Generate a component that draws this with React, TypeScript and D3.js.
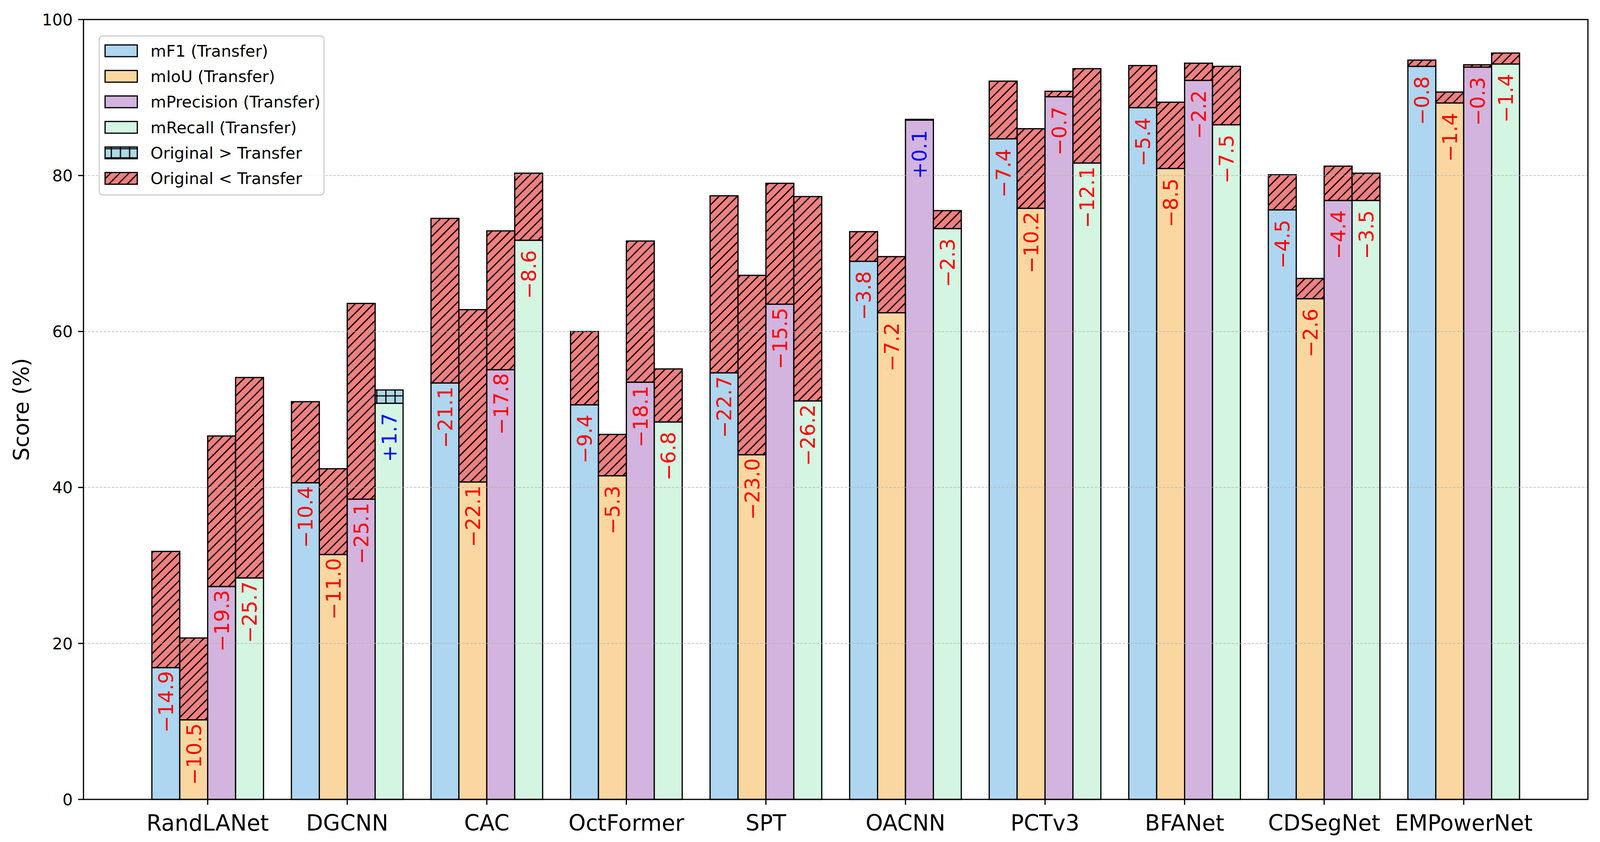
import { useEffect, useMemo, useState } from "react";
import * as d3 from "d3";

const categories = ["RandLANet", "DGCNN", "CAC", "OctFormer", "SPT", "OACNN", "PCTv3", "BFANet", "CDSegNet", "EMPowerNet"];

const metricNames = ["mF1 (Transfer)", "mIoU (Transfer)", "mPrecision (Transfer)", "mRecall (Transfer)"];

// transfer scores (base bars)
const mF1 = [16.9, 40.6, 53.4, 50.6, 54.7, 69.0, 84.7, 88.7, 75.6, 94.0];
const mIoU = [10.2, 31.4, 40.7, 41.5, 44.2, 62.4, 75.8, 80.9, 64.2, 89.3];
const mPrecision = [27.3, 38.5, 55.1, 53.5, 63.5, 87.1, 90.1, 92.2, 76.8, 93.9];
const mRecall = [28.4, 50.8, 71.7, 48.4, 51.1, 73.2, 81.6, 86.5, 76.8, 94.3];

// differences shown as labels and stacked hatch segments
const dF1 = [-14.9, -10.4, -21.1, -9.4, -22.7, -3.8, -7.4, -5.4, -4.5, -0.8];
const dIoU = [-10.5, -11.0, -22.1, -5.3, -23.0, -7.2, -10.2, -8.5, -2.6, -1.4];
const dPrecision = [-19.3, -25.1, -17.8, -18.1, -15.5, 0.1, -0.7, -2.2, -4.4, -0.3];
const dRecall = [-25.7, 1.7, -8.6, -6.8, -26.2, -2.3, -12.1, -7.5, -3.5, -1.4];

const yTicks = [0, 20, 40, 60, 80, 100];
const gridTicks = [20, 40, 60, 80];

const COLORS = ["#AED6F1", "#FAD7A0", "#D2B4DE", "#D5F5E3"];
const FONT = "DejaVu Sans";

// reference figure size, all layout numbers below are in these units
const REF_W = 4370;
const REF_H = 2155;

function useViewport() {
  const get = () => ({ w: window.innerWidth || REF_W, h: window.innerHeight || REF_H });
  const [vp, setVp] = useState(get);
  useEffect(() => {
    document.body.style.margin = "0";
    document.body.style.overflow = "hidden";
    const onResize = () => setVp(get());
    window.addEventListener("resize", onResize);
    onResize();
    return () => window.removeEventListener("resize", onResize);
  }, []);
  return vp;
}

export default function App() {
  const { w, h } = useViewport();
  const sx = w / REF_W;
  const sy = h / REF_H;
  const k = Math.min(sx, sy); // font / stroke scale
  const X = (v: number) => v * sx;
  const Y = (v: number) => v * sy;

  const series = [mF1, mIoU, mPrecision, mRecall];
  const diffs = [dF1, dIoU, dPrecision, dRecall];

  const x = useMemo(() => d3.scaleLinear().domain([-0.89, 9.89]).range([X(228), X(4337)]), [sx]);
  const y = useMemo(() => d3.scaleLinear().domain([0, 100]).range([Y(2046), Y(50)]), [sy]);

  const barW = 0.2;
  const offsets = [-0.3, -0.1, 0.1, 0.3];
  const bw = x(barW) - x(0);
  const plotL = x(-0.89);
  const plotR = x(9.89);
  const plotT = y(100);
  const plotB = y(0);
  const edge = 3.3 * k;
  const tick = 14.6 * k;
  const hs = 25 * k; // hatch spacing

  const legendRows = [
    { label: metricNames[0], fill: COLORS[0] },
    { label: metricNames[1], fill: COLORS[1] },
    { label: metricNames[2], fill: COLORS[2] },
    { label: metricNames[3], fill: COLORS[3] },
    { label: "Original > Transfer", fill: "url(#hatchBlue)" },
    { label: "Original < Transfer", fill: "url(#hatchRed)" },
  ];

  const fmt = (d: number) => (d >= 0 ? "+" : "\u2212") + Math.abs(d).toFixed(1);

  return (
    <div style={{ position: "fixed", left: 0, top: 0, width: w, height: h, background: "#fff" }}>
      <svg width={w} height={h} style={{ display: "block" }} fontFamily={FONT}>
        <defs>
          <pattern id="hatchRed" patternUnits="userSpaceOnUse" width={hs} height={hs}>
            <rect width={hs} height={hs} fill="#F08080" />
            <path
              d={`M${-hs / 4},${hs / 4} L${hs / 4},${-hs / 4} M0,${hs} L${hs},0 M${(3 * hs) / 4},${(5 * hs) / 4} L${(5 * hs) / 4},${(3 * hs) / 4}`}
              stroke="#000"
              strokeWidth={3.3 * k}
            />
          </pattern>
          <pattern id="hatchBlue" patternUnits="userSpaceOnUse" width={hs} height={hs} x={4 * k} y={6 * k}>
            <rect width={hs} height={hs} fill="#ADD8E6" />
            <path d={`M0,0 L0,${hs} M${hs},0 L${hs},${hs} M0,0 L${hs},0 M0,${hs} L${hs},${hs}`} stroke="#000" strokeWidth={3.3 * k} />
          </pattern>
        </defs>

        <rect x={0} y={0} width={w} height={h} fill="#fff" />

        {/* bars: transfer value + hatched difference on top */}
        {series.map((vals, s) =>
          vals.map((v, i) => {
            const x0 = x(i + offsets[s] - barW / 2);
            const d = diffs[s][i];
            const top = v + Math.abs(d);
            return (
              <g key={`b${s}-${i}`}>
                <rect x={x0} y={y(v)} width={bw} height={y(0) - y(v)} fill={COLORS[s]} stroke="#000" strokeWidth={edge} />
                <rect
                  x={x0}
                  y={y(top)}
                  width={bw}
                  height={y(v) - y(top)}
                  fill={d < 0 ? "url(#hatchRed)" : "url(#hatchBlue)"}
                  stroke="#000"
                  strokeWidth={edge}
                />
              </g>
            );
          })
        )}

        {/* grid */}
        {gridTicks.map((t) => (
          <line
            key={`g${t}`}
            x1={plotL}
            x2={plotR}
            y1={y(t)}
            y2={y(t)}
            stroke="#b0b0b0"
            strokeOpacity={0.7}
            strokeWidth={2.1 * k}
            strokeDasharray={`${7.7 * k},${3.3 * k}`}
          />
        ))}

        {/* value labels */}
        {series.map((vals, s) =>
          vals.map((v, i) => {
            const d = diffs[s][i];
            const cx = x(i + offsets[s]);
            const cy = y(v - 4.4);
            return (
              <text
                key={`t${s}-${i}`}
                transform={`translate(${cx},${cy}) rotate(-90)`}
                textAnchor="middle"
                dy="0.36em"
                fontSize={55 * k}
                fill={d < 0 ? "#ff0000" : "#0000ff"}
              >
                {fmt(d)}
              </text>
            );
          })
        )}

        {/* frame */}
        <rect x={plotL} y={plotT} width={plotR - plotL} height={plotB - plotT} fill="none" stroke="#000" strokeWidth={edge} />

        {/* y axis */}
        {yTicks.map((t) => (
          <g key={`y${t}`}>
            <line x1={plotL - tick} x2={plotL} y1={y(t)} y2={y(t)} stroke="#000" strokeWidth={edge} />
            <text x={plotL - 2 * tick} y={y(t)} dy="0.36em" textAnchor="end" fontSize={44 * k} fill="#000">
              {t}
            </text>
          </g>
        ))}
        <text
          transform={`translate(${X(78)},${(plotT + plotB) / 2}) rotate(-90)`}
          textAnchor="middle"
          fontSize={58 * k}
          fill="#000"
        >
          Score (%)
        </text>

        {/* x axis */}
        {categories.map((c, i) => (
          <g key={`x${c}`}>
            <line x1={x(i)} x2={x(i)} y1={plotB} y2={plotB + tick} stroke="#000" strokeWidth={edge} />
            <text x={x(i)} y={plotB + Y(80)} textAnchor="middle" fontSize={60 * k} fill="#000">
              {c}
            </text>
          </g>
        ))}

        {/* legend */}
        <g>
          <rect
            x={X(271)}
            y={Y(92)}
            width={X(614)}
            height={Y(407)}
            rx={10 * k}
            fill="#fff"
            fillOpacity={0.8}
            stroke="#cccccc"
            strokeWidth={3 * k}
          />
          {legendRows.map((r, j) => {
            const cy = Y(130 + j * 65.3);
            return (
              <g key={`l${j}`}>
                <rect x={X(287)} y={cy - 16 * k} width={X(88)} height={32 * k} fill={r.fill} stroke="#000" strokeWidth={edge} />
                <text x={X(411)} y={cy} dy="0.36em" fontSize={44 * k} fill="#000">
                  {r.label}
                </text>
              </g>
            );
          })}
        </g>
      </svg>
    </div>
  );
}
